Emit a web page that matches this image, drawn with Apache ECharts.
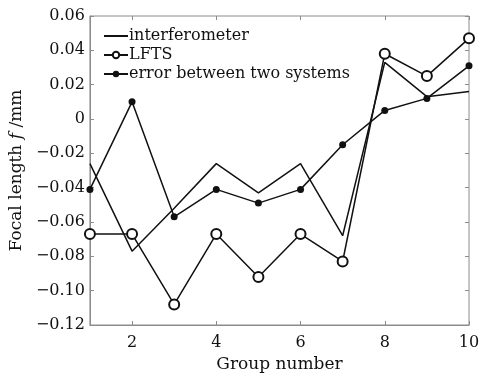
<!DOCTYPE html>
<html><head><meta charset="utf-8">
<script src="https://cdn.jsdelivr.net/npm/echarts@6/dist/echarts.min.js"></script>
<style>html,body{margin:0;padding:0;background:#fff}#c{width:496px;height:378px}</style>
</head><body><div id="c"></div>
<script>
const groups = [1,2,3,4,5,6,7,8,9,10];
const xTicks = [2,4,6,8,10];
const interferometer = [-0.026,-0.077,-0.052,-0.026,-0.043,-0.026,-0.068,0.033,0.013,0.016];
const lfts = [-0.067,-0.067,-0.108,-0.067,-0.092,-0.067,-0.083,0.038,0.025,0.047];
const errorTwo = [-0.041,0.010,-0.057,-0.041,-0.049,-0.041,-0.015,0.005,0.012,0.031];
const seriesNames = ['interferometer','LFTS','error between two systems'];

const pair = arr => groups.map((g,i)=>[g,arr[i]]);
const font = 'DejaVu Serif';
const fmtY = v => { if (Math.abs(v) < 1e-9) return '0'; return v.toFixed(2).replace('-', '\u2212'); };
const axisGray = '#8c8c8c';
const chart = echarts.init(document.getElementById('c'));
chart.setOption({
  backgroundColor:'#fff',
  animation:false,
  grid:{left:89,right:27,top:16,bottom:52,show:true,borderColor:axisGray,borderWidth:1},
  legend:{
    left:98, top:23, orient:'vertical', itemGap:3, itemWidth:24, itemHeight:8,
    textStyle:{fontFamily:font,fontSize:16,color:'#111',padding:[0,0,0,-4]},
    data:[{name:seriesNames[0],itemStyle:{opacity:0}},{name:seriesNames[1]},{name:seriesNames[2]}]
  },
  xAxis:[{
    type:'value', min:1, max:10,
    name:'Group number', nameLocation:'middle', nameGap:31,
    nameTextStyle:{fontFamily:font,fontSize:17,color:'#111'},
    axisLine:{onZero:false,lineStyle:{color:axisGray}},
    axisTick:{inside:true,length:4,lineStyle:{color:axisGray},customValues:xTicks},
    axisLabel:{fontFamily:font,fontSize:16,color:'#111',margin:10,customValues:xTicks},
    splitLine:{show:false}
  },{
    type:'value', min:1, max:10, position:'top',
    axisLine:{show:false,onZero:false}, axisTick:{inside:true,length:4,lineStyle:{color:axisGray},customValues:xTicks},
    axisLabel:{show:false}, splitLine:{show:false}
  }],
  yAxis:[{
    type:'value', min:-0.12, max:0.06, interval:0.02,
    name:'{a|Focal length }{b|f}{a| /mm}', nameLocation:'middle', nameGap:56,
    nameTextStyle:{rich:{a:{fontFamily:font,fontSize:17,color:'#111'},b:{fontFamily:font,fontSize:17,fontStyle:'italic',color:'#111'}}},
    axisLine:{onZero:false,lineStyle:{color:axisGray}},
    axisTick:{inside:true,length:4,lineStyle:{color:axisGray}},
    axisLabel:{fontFamily:font,fontSize:16,color:'#111',margin:5,formatter:fmtY},
    splitLine:{show:false}
  },{
    type:'value', min:-0.12, max:0.06, interval:0.02, position:'right',
    axisLine:{show:false,onZero:false}, axisTick:{inside:true,length:4,lineStyle:{color:axisGray}},
    axisLabel:{show:false}, splitLine:{show:false}
  }],
  series:[
    {name:seriesNames[0],type:'line',data:pair(interferometer),symbol:'none',
      lineStyle:{color:'#111',width:1.5},itemStyle:{color:'#111'}},
    {name:seriesNames[1],type:'line',data:pair(lfts),symbol:'emptyCircle',symbolSize:10,
      lineStyle:{color:'#111',width:1.5},itemStyle:{color:'#111',borderColor:'#111',borderWidth:1}},
    {name:seriesNames[2],type:'line',data:pair(errorTwo),symbol:'circle',symbolSize:7,
      lineStyle:{color:'#111',width:1.5},itemStyle:{color:'#111'}}
  ]
});
</script></body></html>
